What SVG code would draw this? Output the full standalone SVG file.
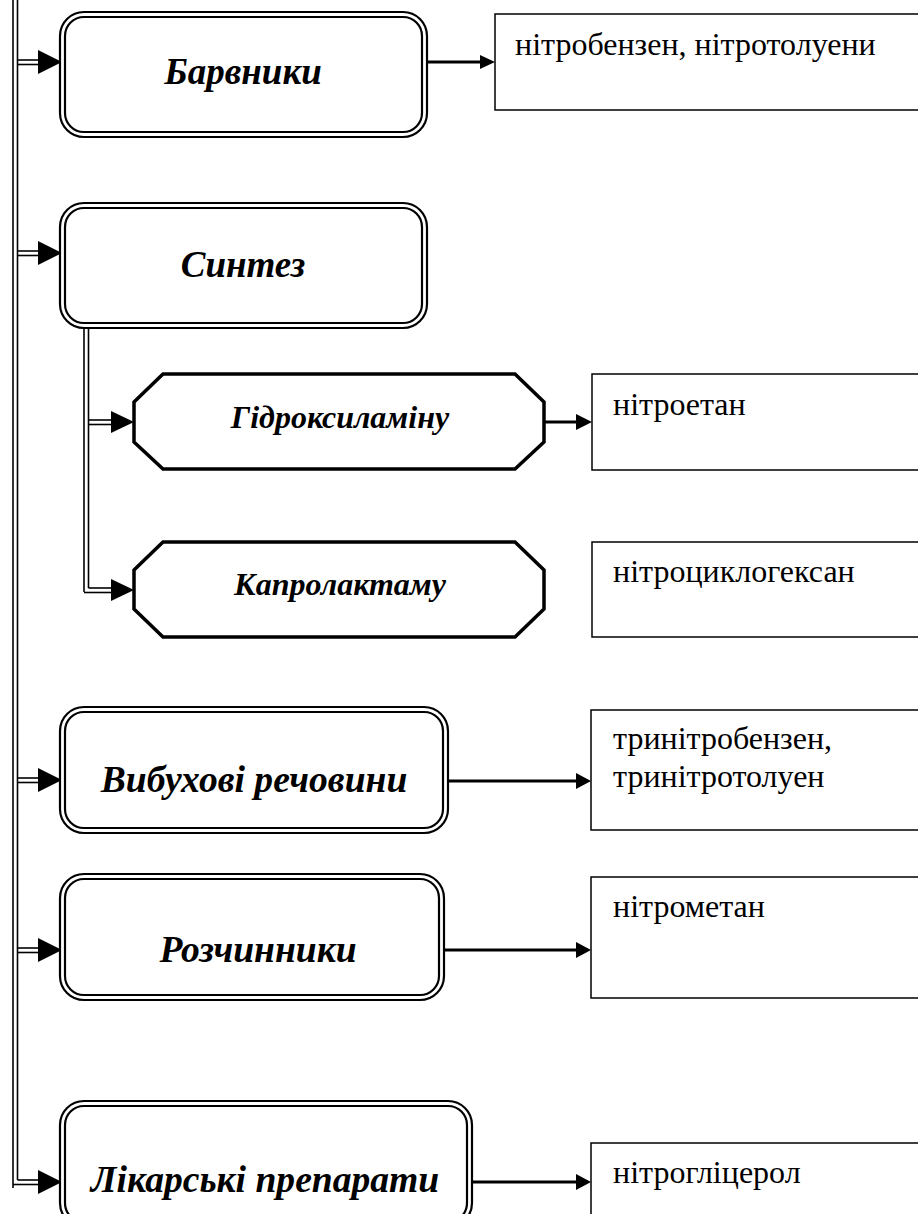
<svg xmlns="http://www.w3.org/2000/svg" width="918" height="1214" viewBox="0 0 918 1214">
  <style>
    .outer { fill: #fff; stroke: #000; stroke-width: 2.2; }
    .inner { fill: none; stroke: #000; stroke-width: 2.2; }
    .oct { fill: #fff; stroke: #000; stroke-width: 3.5; stroke-linejoin: miter; }
    .box { fill: #fff; stroke: #000; stroke-width: 1.5; }
    .dbl { fill: none; stroke: #000; stroke-width: 1.6; }
    .single { fill: none; stroke: #000; stroke-width: 2.8; }
    .head { fill: #000; stroke: none; }
    .big { font-family: "Liberation Serif", "Times New Roman", serif; font-style: italic; font-weight: bold; font-size: 37px; text-anchor: middle; }
    .big2 { font-family: "Liberation Serif", "Times New Roman", serif; font-style: italic; font-weight: bold; font-size: 37.6px; text-anchor: middle; }
    .mid { font-family: "Liberation Serif", "Times New Roman", serif; font-style: italic; font-weight: bold; font-size: 32px; text-anchor: middle; }
    .note { font-family: "Liberation Serif", "Times New Roman", serif; font-style: normal; font-weight: normal; font-size: 32px; }
  </style>

  <!-- connectors -->
  <g id="connectors">
    <!-- main double trunk -->
    <line class="dbl" x1="13" y1="0" x2="13" y2="1188"/>
    <line class="dbl" x1="17.5" y1="0" x2="17.5" y2="1180"/>

    <!-- double branches into category boxes -->
    <line class="dbl" x1="17.5" y1="60" x2="40" y2="60"/>
    <line class="dbl" x1="17.5" y1="64.5" x2="40" y2="64.5"/>
    <polygon class="head" points="38,50 62,62 38,74"/>

    <line class="dbl" x1="17.5" y1="251" x2="40" y2="251"/>
    <line class="dbl" x1="17.5" y1="255.5" x2="40" y2="255.5"/>
    <polygon class="head" points="38,241 62,253 38,265"/>

    <line class="dbl" x1="17.5" y1="778" x2="40" y2="778"/>
    <line class="dbl" x1="17.5" y1="782.5" x2="40" y2="782.5"/>
    <polygon class="head" points="38,768 62,780 38,792"/>

    <line class="dbl" x1="17.5" y1="948" x2="40" y2="948"/>
    <line class="dbl" x1="17.5" y1="952.5" x2="40" y2="952.5"/>
    <polygon class="head" points="38,938 62,950 38,962"/>

    <line class="dbl" x1="17.5" y1="1180" x2="40" y2="1180"/>
    <line class="dbl" x1="13" y1="1184.5" x2="40" y2="1184.5"/>
    <polygon class="head" points="38,1170 62,1182 38,1194"/>

    <!-- double sub-trunk from Синтез -->
    <line class="dbl" x1="84" y1="328" x2="84" y2="592"/>
    <line class="dbl" x1="88.5" y1="328" x2="88.5" y2="588"/>
    <line class="dbl" x1="88.5" y1="420" x2="112" y2="420"/>
    <line class="dbl" x1="88.5" y1="424.5" x2="112" y2="424.5"/>
    <polygon class="head" points="111,411 134,422 111,433"/>
    <line class="dbl" x1="88.5" y1="588" x2="112" y2="588"/>
    <line class="dbl" x1="84" y1="592.5" x2="112" y2="592.5"/>
    <polygon class="head" points="111,579 134,590 111,601"/>

    <!-- single arrows to product boxes -->
    <line class="single" x1="427" y1="62" x2="482" y2="62"/>
    <polygon class="head" points="480,55 495,62 480,69"/>

    <line class="single" x1="544" y1="422" x2="578" y2="422"/>
    <polygon class="head" points="576,414 592,422 576,430"/>

    <line class="single" x1="448" y1="781" x2="578" y2="781"/>
    <polygon class="head" points="576,773 591,781 576,789"/>

    <line class="single" x1="444" y1="950" x2="578" y2="950"/>
    <polygon class="head" points="576,942 591,950 576,958"/>

    <line class="single" x1="472" y1="1182" x2="578" y2="1182"/>
    <polygon class="head" points="576,1174 591,1182 576,1190"/>
  </g>

  <!-- category nodes -->
  <g id="node-barvnyky">
    <rect class="outer" x="60" y="12" width="367" height="125" rx="24"/>
    <rect class="inner" x="65" y="17" width="357" height="115" rx="19"/>
    <text class="big" x="243" y="84">Барвники</text>
  </g>

  <g id="node-syntez">
    <rect class="outer" x="60" y="203" width="367" height="125" rx="24"/>
    <rect class="inner" x="65" y="208" width="357" height="115" rx="19"/>
    <text class="big" x="243" y="277">Синтез</text>
  </g>

  <g id="node-hidroksylaminu">
    <polygon class="oct" points="163,374 515,374 544,402 544,442 515,469 163,469 134,442 134,402"/>
    <text class="mid" x="340" y="428">Гідроксиламіну</text>
  </g>

  <g id="node-kaprolaktamu">
    <polygon class="oct" points="163,542 515,542 544,570 544,609 515,637 163,637 134,609 134,570"/>
    <text class="mid" x="340" y="595">Капролактаму</text>
  </g>

  <g id="node-vybukhovi">
    <rect class="outer" x="60" y="707" width="388" height="126" rx="24"/>
    <rect class="inner" x="65" y="712" width="378" height="116" rx="19"/>
    <text class="big2" x="254" y="792">Вибухові речовини</text>
  </g>

  <g id="node-rozchynnyky">
    <rect class="outer" x="60" y="874" width="384" height="126" rx="24"/>
    <rect class="inner" x="65" y="879" width="374" height="116" rx="19"/>
    <text class="big2" x="258" y="962">Розчинники</text>
  </g>

  <g id="node-likarski">
    <rect class="outer" x="60" y="1101" width="412" height="126" rx="24"/>
    <rect class="inner" x="65" y="1106" width="402" height="116" rx="19"/>
    <text class="big2" x="265" y="1192">Лікарські препарати</text>
  </g>

  <!-- product boxes -->
  <g id="prod-barvnyky">
    <rect class="box" x="495" y="14" width="424" height="96"/>
    <text class="note" x="515" y="55">нітробензен, нітротолуени</text>
  </g>

  <g id="prod-hidroksylaminu">
    <rect class="box" x="592" y="374" width="327" height="96"/>
    <text class="note" x="613" y="415">нітроетан</text>
  </g>

  <g id="prod-kaprolaktamu">
    <rect class="box" x="592" y="542" width="327" height="95"/>
    <text class="note" x="613" y="582">нітроциклогексан</text>
  </g>

  <g id="prod-vybukhovi">
    <rect class="box" x="591" y="710" width="328" height="120"/>
    <text class="note" x="613" y="749">тринітробензен,</text>
    <text class="note" x="613" y="787">тринітротолуен</text>
  </g>

  <g id="prod-rozchynnyky">
    <rect class="box" x="591" y="877" width="328" height="121"/>
    <text class="note" x="613" y="917">нітрометан</text>
  </g>

  <g id="prod-likarski">
    <rect class="box" x="591" y="1143" width="328" height="90"/>
    <text class="note" x="613" y="1183">нітрогліцерол</text>
  </g>
</svg>
